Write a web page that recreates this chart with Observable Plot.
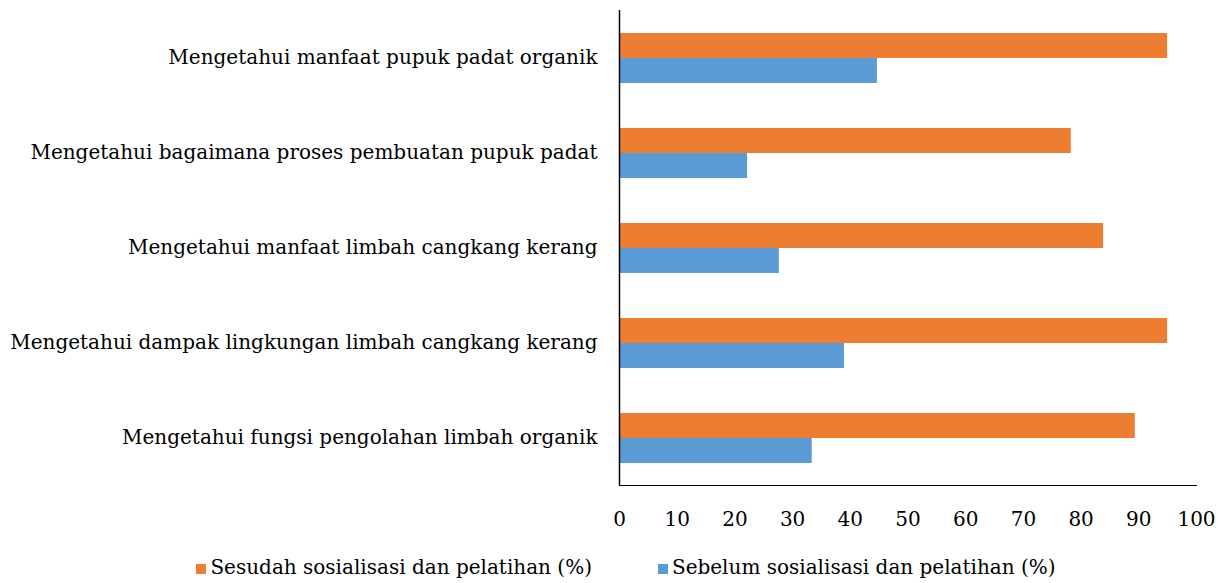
<!DOCTYPE html>
<html><head><meta charset="utf-8">
<script src="https://cdn.jsdelivr.net/npm/d3@7"></script>
<script src="https://cdn.jsdelivr.net/npm/@observablehq/plot@0.6"></script>
<style>
body{margin:0;background:#fff;font-family:"DejaVu Serif",serif;}
#legend{display:flex;justify-content:center;gap:66px;font-size:20px;color:#000;margin-top:15px;padding-left:24px}
#legend span.sw{display:inline-block;width:10px;height:10px;margin-right:4px;vertical-align:0px}
</style></head><body>
<div id="chart"></div>
<div id="legend"></div>
<script>
const categories = [
  "Mengetahui manfaat pupuk padat organik",
  "Mengetahui bagaimana proses pembuatan pupuk padat",
  "Mengetahui manfaat limbah cangkang kerang",
  "Mengetahui dampak lingkungan limbah cangkang kerang",
  "Mengetahui fungsi pengolahan limbah organik"
];
const series = ["Sesudah sosialisasi dan pelatihan (%)", "Sebelum sosialisasi dan pelatihan (%)"];
const sesudah = [95, 78.3, 83.9, 95, 89.4];
const sebelum = [44.7, 22.2, 27.7, 39, 33.4];
const colors = ["#ED7D31", "#5B9BD5"];
const xTicks = [0,10,20,30,40,50,60,70,80,90,100];

const data = [];
categories.forEach((c,i)=>{
  data.push({cat:c, s:series[0], v:sesudah[i]});
  data.push({cat:c, s:series[1], v:sebelum[i]});
});

const chart = Plot.plot({
  width: 1228, height: 540,
  marginLeft: 619, marginRight: 32, marginTop: 10, marginBottom: 55,
  style: {fontFamily: '"DejaVu Serif", serif', fontSize: "20px", color: "#000", background: "#fff"},
  x: {domain: [0,100], ticks: xTicks, tickSize: 0, tickPadding: 26, label: null, line: true},
  y: {domain: series, axis: null, paddingInner: 0, paddingOuter: 0.9},
  fy: {domain: categories, padding: 0, tickSize: 0, tickPadding: 22, label: null},
  color: {domain: series, range: colors},
  marks: [
    Plot.barX(data, {x: "v", y: "s", fy: "cat", fill: "s", insetTop: 0, insetBottom: 0}),
    Plot.ruleX([0], {stroke: "#000", strokeWidth: 1.5})
  ]
});
document.getElementById("chart").appendChild(chart);

const lg = document.getElementById("legend");
series.forEach((s,i)=>{
  const d = document.createElement("div");
  d.innerHTML = `<span class="sw" style="background:${colors[i]}"></span>${s}`;
  lg.appendChild(d);
});
</script>
</body></html>
